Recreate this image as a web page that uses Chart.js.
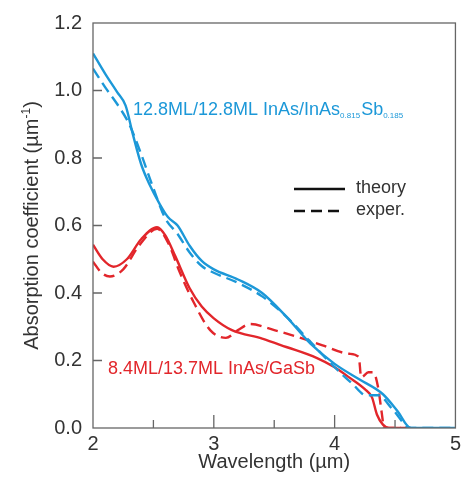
<!DOCTYPE html>
<html>
<head>
<meta charset="utf-8">
<script src="https://cdn.jsdelivr.net/npm/chart.js@4"></script>
<style>
  html, body { margin: 0; padding: 0; background: #fff; }
  #wrap { width: 465px; height: 482px; }
</style>
</head>
<body>
<div id="wrap"><canvas id="absChart" width="465" height="482"></canvas></div>
<script>
    // wavelength (µm) and absorption coefficient (µm^-1)
    const blueTheoryX = [2.00, 2.10, 2.20, 2.27, 2.33, 2.40, 2.47, 2.55, 2.62, 2.70, 2.80, 2.90, 3.00, 3.20, 3.40, 3.60, 3.80, 4.00, 4.20, 4.40, 4.52, 4.63, 5.00];
    const blueTheoryY = [1.11, 1.05, 0.995, 0.955, 0.87, 0.78, 0.72, 0.665, 0.625, 0.60, 0.54, 0.495, 0.47, 0.44, 0.40, 0.33, 0.25, 0.19, 0.145, 0.10, 0.05, 0.00, 0.00];

    const blueExperX = [2.00, 2.10, 2.20, 2.30, 2.40, 2.50, 2.60, 2.70, 2.80, 2.90, 3.00, 3.20, 3.40, 3.60, 3.80, 4.00, 4.15, 4.26, 4.36, 4.48, 4.63, 5.00];
    const blueExperY = [1.065, 1.01, 0.96, 0.90, 0.81, 0.71, 0.62, 0.575, 0.52, 0.48, 0.46, 0.43, 0.39, 0.33, 0.255, 0.18, 0.13, 0.097, 0.097, 0.055, 0.00, 0.00];

    const redTheoryX = [2.00, 2.08, 2.17, 2.28, 2.40, 2.53, 2.60, 2.68, 2.80, 2.90, 3.00, 3.15, 3.40, 3.60, 3.85, 4.00, 4.12, 4.25, 4.31, 4.35, 4.40, 4.45, 4.63];
    const redTheoryY = [0.543, 0.50, 0.478, 0.50, 0.56, 0.595, 0.57, 0.51, 0.414, 0.36, 0.325, 0.29, 0.265, 0.24, 0.208, 0.18, 0.15, 0.115, 0.09, 0.04, 0.01, 0.00, 0.00];

    const redExperX = [2.00, 2.07, 2.14, 2.25, 2.38, 2.53, 2.62, 2.72, 2.83, 2.97, 3.10, 3.20, 3.30, 3.50, 3.71, 3.90, 4.12, 4.20, 4.22, 4.28, 4.32, 4.36, 4.39, 4.41, 4.55];
    const redExperY = [0.493, 0.46, 0.449, 0.47, 0.54, 0.59, 0.55, 0.46, 0.375, 0.29, 0.267, 0.29, 0.308, 0.29, 0.268, 0.245, 0.22, 0.21, 0.15, 0.165, 0.165, 0.12, 0.045, 0.00, 0.00];

    const xTicks = [2, 3, 4, 5];
    const yTicks = [0.0, 0.2, 0.4, 0.6, 0.8, 1.0, 1.2];

    const BLUE = '#1c98d8';
    const RED = '#e2262b';
    const INK = '#333333';
    const FONT = '"Liberation Sans", Arial, sans-serif';

    function toPoints(xs, ys) {
        return xs.map((x, i) => ({ x: x, y: ys[i] }));
    }

    function series(label, xs, ys, color, dashed) {
        return {
            label: label,
            data: toPoints(xs, ys),
            borderColor: color,
            borderWidth: 2.4,
            borderDash: dashed ? [11, 6] : [],
            pointRadius: 0,
            fill: false,
            cubicInterpolationMode: 'monotone'
        };
    }

    // frame, inward ticks, legend and the text labels
    const decorations = {
        id: 'decorations',
        afterDatasetsDraw(chart) {
            const ctx = chart.ctx;
            const a = chart.chartArea;
            const xs = chart.scales.x;
            const ys = chart.scales.y;
            ctx.save();

            // frame
            ctx.strokeStyle = '#666';
            ctx.lineWidth = 1.3;
            ctx.setLineDash([]);
            ctx.strokeRect(a.left, a.top, a.right - a.left, a.bottom - a.top);

            // inward ticks
            ctx.beginPath();
            for (let v = 2.5; v < 5; v += 0.5) {
                const px = xs.getPixelForValue(v);
                const len = Number.isInteger(v) ? 13 : 8;
                ctx.moveTo(px, a.bottom);
                ctx.lineTo(px, a.bottom - len);
            }
            yTicks.forEach(v => {
                if (v <= 0 || v >= 1.2) return;
                const py = ys.getPixelForValue(v);
                ctx.moveTo(a.left, py);
                ctx.lineTo(a.left + 9, py);
            });
            ctx.stroke();

            // legend
            ctx.strokeStyle = '#111';
            ctx.lineWidth = 2.4;
            ctx.beginPath();
            ctx.moveTo(294, 189);
            ctx.lineTo(345, 189);
            ctx.stroke();
            ctx.setLineDash([11, 6]);
            ctx.beginPath();
            ctx.moveTo(294, 211);
            ctx.lineTo(345, 211);
            ctx.stroke();
            ctx.setLineDash([]);
            ctx.fillStyle = INK;
            ctx.font = '18px ' + FONT;
            ctx.textBaseline = 'middle';
            ctx.textAlign = 'left';
            ctx.fillText('theory', 356, 188);
            ctx.fillText('exper.', 356, 210);

            // series labels with subscripts
            ctx.textBaseline = 'alphabetic';
            let x = 133;
            const base = 115;
            const parts = [
                ['12.8ML/12.8ML InAs/InAs', 18, 0],
                ['0.815', 8, 3],
                ['Sb', 18, 0],
                ['0.185', 8, 3]
            ];
            ctx.fillStyle = BLUE;
            parts.forEach(p => {
                ctx.font = p[1] + 'px ' + FONT;
                ctx.fillText(p[0], x, base + p[2]);
                x += ctx.measureText(p[0]).width + (p[1] < 10 ? 1 : 0);
            });
            ctx.fillStyle = RED;
            ctx.font = '18px ' + FONT;
            ctx.fillText('8.4ML/13.7ML InAs/GaSb', 108, 374);

            // y axis title with superscript
            ctx.translate(38, (a.top + a.bottom) / 2);
            ctx.rotate(-Math.PI / 2);
            ctx.fillStyle = INK;
            const main = 'Absorption coefficient (µm';
            const sup = '-1';
            ctx.font = '20px ' + FONT;
            const wMain = ctx.measureText(main).width;
            const wClose = ctx.measureText(')').width;
            ctx.font = '12px ' + FONT;
            const wSup = ctx.measureText(sup).width;
            let tx = -(wMain + wSup + wClose) / 2;
            ctx.font = '20px ' + FONT;
            ctx.fillText(main, tx, 0);
            tx += wMain;
            ctx.font = '12px ' + FONT;
            ctx.fillText(sup, tx, -8);
            tx += wSup;
            ctx.font = '20px ' + FONT;
            ctx.fillText(')', tx, 0);

            ctx.restore();
        }
    };

    const ctx = document.getElementById('absChart').getContext('2d');
    const absChart = new Chart(ctx, {
        type: 'line',
        data: {
            datasets: [
                series('blue theory', blueTheoryX, blueTheoryY, BLUE, false),
                series('blue exper.', blueExperX, blueExperY, BLUE, true),
                series('red theory', redTheoryX, redTheoryY, RED, false),
                series('red exper.', redExperX, redExperY, RED, true)
            ]
        },
        options: {
            responsive: false,
            animation: false,
            events: [],
            layout: { padding: { top: 19, right: 9, left: 0, bottom: 0 } },
            plugins: {
                legend: { display: false },
                tooltip: { enabled: false }
            },
            scales: {
                x: {
                    type: 'linear',
                    min: 2,
                    max: 5,
                    afterBuildTicks: scale => {
                        scale.ticks = xTicks.map(v => ({ value: v }));
                    },
                    afterFit: scale => { scale.height = 54; },
                    grid: { display: false, drawTicks: false },
                    border: { display: false },
                    ticks: {
                        color: INK,
                        padding: 4,
                        font: { family: FONT, size: 20 },
                        callback: v => String(v)
                    },
                    title: {
                        display: true,
                        text: 'Wavelength (µm)',
                        color: INK,
                        padding: { top: 0, bottom: 8 },
                        font: { family: FONT, size: 20 }
                    }
                },
                y: {
                    type: 'linear',
                    min: 0,
                    max: 1.2,
                    afterBuildTicks: scale => {
                        scale.ticks = yTicks.map(v => ({ value: v }));
                    },
                    afterFit: scale => { scale.width = 93; },
                    grid: { display: false, drawTicks: false },
                    border: { display: false },
                    ticks: {
                        color: INK,
                        padding: 11,
                        font: { family: FONT, size: 20 },
                        callback: v => v.toFixed(1)
                    }
                }
            }
        },
        plugins: [decorations]
    });
</script>
</body>
</html>
